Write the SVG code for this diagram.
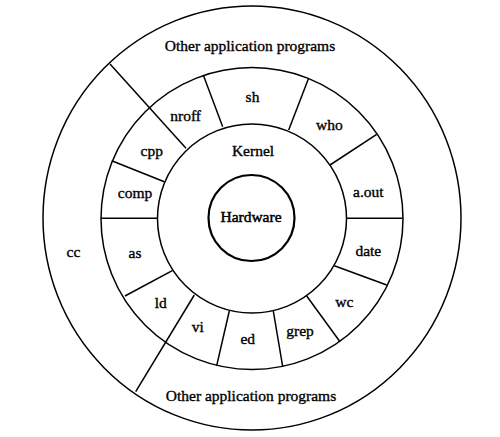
<svg xmlns="http://www.w3.org/2000/svg" width="500" height="437" viewBox="0 0 500 437">
<style>
.ring{fill:none;stroke:#000;stroke-width:1.5}
.hw{fill:none;stroke:#000;stroke-width:2.2}
.div line{stroke:#000;stroke-width:1.5}
text{font-family:"Liberation Serif","Times New Roman",serif;font-size:15.5px;fill:#000;stroke:#000;stroke-width:0.35;text-anchor:middle}
</style>
<rect width="500" height="437" fill="#fff"/>
<g id="outer-ring"><ellipse class="ring" cx="252" cy="218" rx="209" ry="212"/></g>
<g id="program-ring"><circle class="ring" cx="252" cy="218.5" r="151"/></g>
<g id="kernel"><circle class="ring" cx="252" cy="218.5" r="94.5"/><text x="253" y="155.5">Kernel</text></g>
<g id="hardware"><circle class="hw" cx="251.5" cy="218" r="43"/><text x="251" y="222" style="stroke-width:0.5">Hardware</text></g>
<g id="dividers" class="div">
<line x1="203.3" y1="75" x2="222.7" y2="126.7"/>
<line x1="308.3" y1="79" x2="288.7" y2="130"/>
<line x1="376.7" y1="134.3" x2="330" y2="165"/>
<line x1="346" y1="218.3" x2="402.5" y2="218.3"/>
<line x1="386.7" y1="285" x2="334.3" y2="265.7"/>
<line x1="340" y1="341.7" x2="306.7" y2="296"/>
<line x1="282.7" y1="366.7" x2="273.3" y2="311"/>
<line x1="216.7" y1="365.7" x2="229.3" y2="311"/>
<line x1="194.3" y1="295" x2="135.7" y2="391.7"/>
<line x1="125" y1="296" x2="172.3" y2="270.7"/>
<line x1="101" y1="218.3" x2="157.5" y2="218.3"/>
<line x1="111.7" y1="160.7" x2="164.3" y2="181.7"/>
<line x1="110" y1="64" x2="186" y2="148.3"/>
</g>
<g id="other-top"><text x="250" y="50.7">Other application programs</text></g>
<g id="other-bottom"><text x="251" y="401">Other application programs</text></g>
<g id="cc"><text x="73.5" y="257">cc</text></g>
<g id="sh"><text x="252.5" y="101.7">sh</text></g>
<g id="nroff"><text x="185.7" y="120.7">nroff</text></g>
<g id="who"><text x="329.3" y="130">who</text></g>
<g id="cpp"><text x="151.7" y="155.5">cpp</text></g>
<g id="comp"><text x="135" y="198">comp</text></g>
<g id="aout"><text x="368.3" y="196.7">a.out</text></g>
<g id="as"><text x="135" y="257.7">as</text></g>
<g id="date"><text x="368.3" y="256">date</text></g>
<g id="ld"><text x="160.7" y="308.3">ld</text></g>
<g id="wc"><text x="344.3" y="306.7">wc</text></g>
<g id="vi"><text x="197.7" y="332.3">vi</text></g>
<g id="grep"><text x="300" y="336">grep</text></g>
<g id="ed"><text x="247.7" y="344.3">ed</text></g>
</svg>
